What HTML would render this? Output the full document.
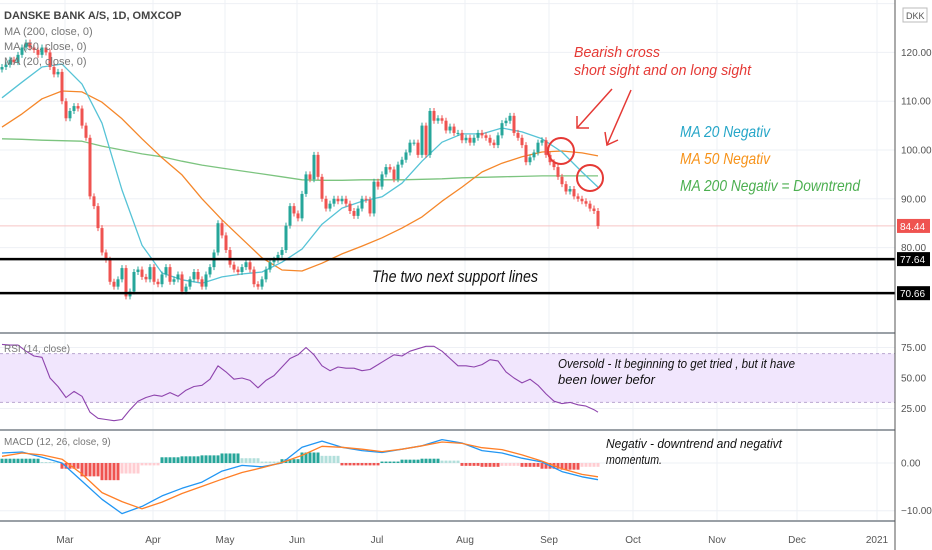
<!DOCTYPE html>
<html><head><meta charset="utf-8">
<style>
html,body{margin:0;padding:0;background:#fff;}
svg{display:block;font-family:"Liberation Sans",sans-serif;}
.ax{font-size:10px;fill:#555;}
.hand{font-family:"Liberation Sans Narrow","Liberation Sans",sans-serif;font-style:italic;}
</style></head>
<body>
<svg id="chart" width="932" height="550" viewBox="0 0 932 550" xmlns="http://www.w3.org/2000/svg">
<g id="grid"></g>
<g id="price"></g>
<g id="rsi"></g>
<g id="macd"></g>
<g id="axes"></g>
<g id="notes">
  <text x="4" y="19" font-size="11" font-weight="bold" fill="#444">DANSKE BANK A/S, 1D, OMXCOP</text>
  <text x="4" y="35" font-size="11" fill="#777">MA (200, close, 0)</text>
  <text x="4" y="50" font-size="11" fill="#777">MA (50, close, 0)</text>
  <text x="4" y="65" font-size="11" fill="#777">MA (20, close, 0)</text>
  <text class="hand" x="574" y="57" font-size="15" fill="#e53935" textLength="86" lengthAdjust="spacingAndGlyphs">Bearish cross</text>
  <text class="hand" x="574" y="75" font-size="15" fill="#e53935" textLength="177" lengthAdjust="spacingAndGlyphs">short sight and on long sight</text>
  <g stroke="#e53935" stroke-width="1.5" fill="none">
    <line x1="612" y1="89" x2="577" y2="128"/><polyline points="577,116 577,128 589,128"/>
    <line x1="631" y1="90" x2="607" y2="145"/><polyline points="605,132 607,145 618,140"/>
  </g>
  <circle cx="561" cy="151" r="13" stroke="#e53935" stroke-width="2" fill="none"/>
  <circle cx="590" cy="178" r="13" stroke="#e53935" stroke-width="2" fill="none"/>
  <text class="hand" x="680" y="137" font-size="16" fill="#26a6c8" textLength="90" lengthAdjust="spacingAndGlyphs">MA 20 Negativ</text>
  <text class="hand" x="680" y="164" font-size="16" fill="#f7931a" textLength="90" lengthAdjust="spacingAndGlyphs">MA 50 Negativ</text>
  <text class="hand" x="680" y="191" font-size="16" fill="#4caf50" textLength="180" lengthAdjust="spacingAndGlyphs">MA 200 Negativ = Downtrend</text>
  <text class="hand" x="372" y="282" font-size="17" fill="#111" textLength="166" lengthAdjust="spacingAndGlyphs">The two next support lines</text>
  <text class="hand" x="558" y="368" font-size="12.5" fill="#111" textLength="237" lengthAdjust="spacingAndGlyphs">Oversold - It beginning to get tried , but it have</text>
  <text class="hand" x="558" y="384" font-size="12.5" fill="#111" textLength="97" lengthAdjust="spacingAndGlyphs">been lower befor</text>
  <text class="hand" x="606" y="448" font-size="12.5" fill="#111" textLength="176" lengthAdjust="spacingAndGlyphs">Negativ - downtrend and negativt</text>
  <text class="hand" x="606" y="464" font-size="12.5" fill="#111" textLength="56" lengthAdjust="spacingAndGlyphs">momentum.</text>
  <text x="4" y="352" font-size="10" fill="#777">RSI (14, close)</text>
  <text x="4" y="445" font-size="10" fill="#777">MACD (12, 26, close, 9)</text>
</g>
</svg>
<script>
const closes=[117,117.5,118.5,118,119.5,121,122,121,120.5,119.5,121,120,117,115.5,116,110,106.5,108,109,108.5,105,102.5,90.5,88.5,84,79,77.5,73,72,73.5,75.8,70,71,75,75.5,74,73.5,76,73,72.5,74.5,76,73,73.5,74.5,71,72,73.5,75,73.5,72,74.5,76,79,85,82.5,79.5,76.5,75.5,75,76,77,75.5,72.5,72,73.5,75.5,77,77.5,78.5,79.5,84.5,88.5,87,86,91,95,94,99,94.5,90,88,89,90,89.5,90,89,87.5,86.5,88,90,89.8,87,93.5,92.5,95,96.5,96,94,97,98,99.5,101.5,101.5,99,105,99,108,106,106.5,106,104,104.8,103.5,103.5,102,102.5,101.5,102.5,103.5,103,102.5,101.5,101,103,105.5,106,107,103.5,102.5,101,97.5,98.5,99.5,101.5,102,99,97.5,96.5,94.5,93,91.5,92,90.5,90,89.5,89,88,87.5,84.44];
const ma20=[110.7,113.9,117.0,117.6,113.5,105.5,91.8,80.5,74.8,73.4,72.7,74.0,74.6,75.0,77.0,79.7,84.8,88.1,89.5,90.4,93.2,97.7,101.6,103.3,103.3,104.5,103.7,102.3,99.6,95.5,92.4];
const ma50=[104.7,107.4,110.5,112.1,111.9,109.8,106.4,102.3,98.4,94.9,90.0,85.7,81.8,77.9,75.4,75.2,76.8,78.7,80.3,82.0,84.0,86.3,89.5,92.4,95.5,97.3,98.6,99.6,99.8,99.4,98.8];
const ma200=[102.3,102.2,102.0,101.9,101.8,100.8,100.0,99.2,98.6,97.7,96.9,96.3,95.7,95.1,94.5,93.9,93.8,93.8,93.9,93.9,93.9,94.0,94.1,94.3,94.4,94.5,94.6,94.7,94.7,94.7,94.7];
const rsiVals=[77.5,77,77,72,68,67,50,43,34,39,35,22,17,16,15,16,24,31,34,36,35,38,35,40,43,44,49,60,55,49,50,48,42,48,52,59,66,69,75,69,60,56,59,58,58,56,57,61,65,69,68,72,74,76,76,72,66,60,60,59,61,65,64,55,50,46,49,44,37,31,29,30,28,27,24,22];
const macdVals=[2.1,2.3,1.2,0.0,-3.8,-7.6,-10.6,-9.1,-6.9,-5.3,-4.0,-1.7,-0.5,-0.8,0.0,3.3,4.6,3.3,2.6,2.2,2.9,3.6,4.9,4.2,2.6,2.1,1.0,0.2,-1.8,-2.9,-3.5];
const signalVals=[1.4,2.1,1.7,0.8,-2.3,-6.2,-8.1,-9.6,-8.2,-6.4,-4.9,-3.4,-2.0,-1.0,0.1,1.6,3.5,3.3,2.9,2.4,2.9,3.6,4.4,4.1,3.2,2.8,1.7,0.4,-1.2,-2.4,-2.9];
const histVals=[0.9,0.9,0.2,-1.2,-2.8,-3.6,-2.2,-0.5,1.2,1.4,1.6,2.0,1.0,0.3,0.8,2.2,1.5,-0.5,-0.5,0.3,0.7,0.9,0.5,-0.6,-0.8,-0.6,-0.8,-1.2,-1.4,-0.8,-0.6];
const priceTicks=[120,110,100,90,80];
const rsiTicks=[75,50,25];
const macdTicks=[0,-10];
const supportLevels=[77.64,70.66];
const lastPrice=84.44;
const months=["Mar","Apr","May","Jun","Jul","Aug","Sep","Oct","Nov","Dec","2021"];
const monthBar=[16,38,56,74,94,116,137,158,179,199,219];

const NS="http://www.w3.org/2000/svg";
function mk(parent,tag,attrs){const e=document.createElementNS(NS,tag);for(const k in attrs)e.setAttribute(k,attrs[k]);parent.appendChild(e);return e;}
const X=i=>2+4*i;
const Y=p=>150-(p-100)*4.88;
const YR=v=>378-(v-50)*1.22;
const YM=v=>463-v*4.77;
const PW=895;
const grid=document.getElementById('grid'),price=document.getElementById('price'),rsi=document.getElementById('rsi'),macd=document.getElementById('macd'),axes=document.getElementById('axes');

monthBar.forEach((b,i)=>{const g=mk(grid,'line',{x1:X(b)-1,x2:X(b)-1,y1:0,y2:521,stroke:'#eef0f5','stroke-width':1});
});
priceTicks.concat([130]).forEach(t=>{const g=mk(grid,'line',{x1:0,x2:PW,y1:Y(t),y2:Y(t),stroke:'#eef0f5'});
});
[75,50,25].forEach(t=>{const g=mk(grid,'line',{x1:0,x2:PW,y1:YR(t),y2:YR(t),stroke:'#eef0f5'});});
[0,-10].forEach(t=>{const g=mk(grid,'line',{x1:0,x2:PW,y1:YM(t),y2:YM(t),stroke:'#eef0f5'});});

let lp=mk(price,'line',{x1:0,x2:PW,y1:Y(lastPrice),y2:Y(lastPrice),stroke:'#f6c5c5'});


function line(parent,vals,yf,color,name,w,step){step=step||5;
const pts=vals.map((v,k)=>X(Math.min(k*step,closes.length-1))+','+yf(v).toFixed(1)).join(' ');
const p=mk(parent,'polyline',{points:pts,fill:'none',stroke:color,'stroke-width':w||1.3,'stroke-linejoin':'round'});
}
line(price,ma200,Y,'#7cc47f','ma200-line');
line(price,ma50,Y,'#f5872a','ma50-line');
line(price,ma20,Y,'#56c3d6','ma20-line');

closes.forEach((c,i)=>{const o=i?closes[i-1]:c-0.5;const up=c>=o;const col=up?'#26a69a':'#ef5350';
const top=Y(Math.max(o,c)),bot=Y(Math.min(o,c));
const g=mk(price,'g',{});
mk(g,'line',{x1:X(i),x2:X(i),y1:top-3,y2:bot+3,stroke:col,'stroke-width':1});
mk(g,'rect',{x:X(i)-1.5,y:top,width:3,height:Math.max(1,bot-top),fill:col});});

supportLevels.forEach((s,i)=>{const l=mk(price,'line',{x1:0,x2:PW,y1:Y(s),y2:Y(s),stroke:'#000','stroke-width':2.5});
});

let band=mk(rsi,'rect',{x:0,y:YR(70),width:PW,height:YR(30)-YR(70),fill:'#f1e6fd'});

[70,30].forEach(t=>{const l=mk(rsi,'line',{x1:0,x2:PW,y1:YR(t),y2:YR(t),stroke:'#b9a6d0','stroke-dasharray':'3,3'});
});
line(rsi,rsiVals,YR,'#8e44ad','rsi-line',1.1,2);

histVals.forEach((h,k)=>{const prev=k?histVals[k-1]:h;let col;
if(h>=0)col=h>=prev?'#26a69a':'#b2dfdb';else col=h<=prev?'#ef5350':'#ffcdd2';
for(let j=0;j<5;j++){const i=k*5+j;if(i>=closes.length)break;
const r=mk(macd,'rect',{x:X(i)-1.5,y:Math.min(YM(0),YM(h)),width:3,height:Math.abs(YM(h)-YM(0)),fill:col});
}});
line(macd,macdVals,YM,'#2196f3','macd-line',1.3);
line(macd,signalVals,YM,'#ff7f27','signal-line',1.3);

[[333,'rsi-separator'],[430,'macd-separator'],[521,'time-axis-line']].forEach(([y,n])=>{const l=mk(axes,'line',{x1:0,x2:PW,y1:y,y2:y,stroke:'#9aa0a6','stroke-width':2});
});
let pa=mk(axes,'line',{x1:PW,x2:PW,y1:0,y2:550,stroke:'#555','stroke-width':1});
function tick(y,t,name){const e=mk(axes,'text',{x:901,y:y+3.5,class:'ax'});e.textContent=t;}
priceTicks.forEach(t=>tick(Y(t),t.toFixed(2),'price-tick'));
rsiTicks.forEach(t=>tick(YR(t),t.toFixed(2),'rsi-tick'));
macdTicks.forEach(t=>tick(YM(t),(t===0?'0.00':'\u2212'+Math.abs(t).toFixed(2)),'macd-tick'));
function badge(v,bg,name){const g=mk(axes,'g',{});
mk(g,'rect',{x:897,y:Y(v)-7,width:33,height:14,fill:bg});
const t=mk(g,'text',{x:900,y:Y(v)+4,'font-size':10,fill:'#fff'});t.textContent=v.toFixed(2);}
badge(lastPrice,'#ef5350','last-price-badge');
supportLevels.forEach((s,i)=>badge(s,'#000','support-badge-'+(i+1)));
let dk=mk(axes,'g',{});
mk(dk,'rect',{x:903,y:8,width:24,height:14,fill:'#fff',stroke:'#bbb'});
let dt=mk(dk,'text',{x:906,y:19,'font-size':9,fill:'#555'});dt.textContent='DKK';
months.forEach((m,i)=>{const t=mk(axes,'text',{x:X(monthBar[i])-1,y:543,class:'ax','text-anchor':'middle'});t.textContent=m;
});
</script>
</body></html>
